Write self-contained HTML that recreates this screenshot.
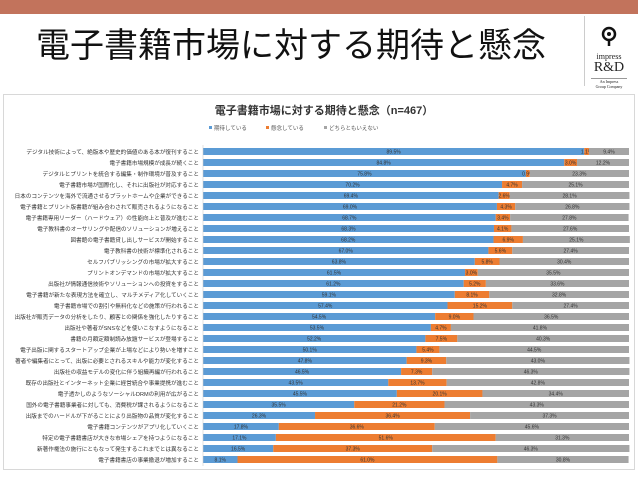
<!DOCTYPE html>
<html><head><meta charset="utf-8">
<style>
body{margin:0;width:638px;height:479px;background:#fff;overflow:hidden;font-family:"Liberation Sans","Noto Sans CJK JP",sans-serif;position:relative}
#topbar{position:absolute;left:0;top:0;width:638px;height:14px;background:#c2735c}
#title{position:absolute;left:36px;top:18px;font-size:34px;color:#111;white-space:nowrap;letter-spacing:0px}
#divider{position:absolute;left:584px;top:16px;width:1px;height:70px;background:#ccc}
#logo{position:absolute;left:585px;top:26px;width:48px;text-align:center;font-family:"Liberation Serif",serif;color:#222}
#panel{position:absolute;left:3px;top:94px;width:630px;height:374px;border:1px solid #d8d8d8;background:#fff}
</style></head><body>
<div id="topbar"></div>
<div id="title">電子書籍市場に対する期待と懸念</div>
<div id="divider"></div>
<div id="logo">
<svg width="20" height="22" viewBox="0 0 20 22"><circle cx="10" cy="8" r="6" fill="none" stroke="#111" stroke-width="2.5"/><circle cx="10" cy="8" r="2" fill="#111"/><path d="M10 14 L10 20" stroke="#111" stroke-width="2.5"/></svg>
<div style="font-size:8px;line-height:8px">impress</div>
<div style="font-size:14px;line-height:14px">R&amp;D</div>
<div style="border-top:1px solid #999;margin:3px 6px 0;font-size:4px;line-height:5px">An Impress<br>Group Company</div>
</div>
<div id="panel">
<svg id="chart" width="630" height="374"></svg>
</div>
<script>
const categories=["デジタル技術によって、絶版本や歴史的価値のある本が復刊すること","電子書籍市場規模が成長が続くこと","デジタルとプリントを統合する編集・制作環境が普及すること","電子書籍市場が国際化し、それに出版社が対応すること","日本のコンテンツを海外で流通させるプラットホームや企業ができること","電子書籍とプリント版書籍が組み合わされて販売されるようになること","電子書籍専用リーダー（ハードウェア）の性能向上と普及が進むこと","電子教科書のオーサリングや配信のソリューションが増えること","図書館の電子書籍貸し出しサービスが開始すること","電子教科書の技術が標準化されること","セルフパブリッシングの市場が拡大すること","プリントオンデマンドの市場が拡大すること","出版社が情報通信技術やソリューションへの投資をすること","電子書籍が新たな表現方法を確立し、マルチメディア化していくこと","電子書籍市場での割引や無料化などの施策が行われること","出版社が販売データの分析をしたり、顧客との関係を強化したりすること","出版社や著者がSNSなどを使いこなすようになること","書籍の月額定額制読み放題サービスが登場すること","電子出版に関するスタートアップ企業が上場などにより勢いを増すこと","著者や編集者にとって、出版に必要とされるスキルや能力が変化すること","出版社の収益モデルの変化に伴う組織再編が行われること","既存の出版社とインターネット企業に経営統合や事業提携が進むこと","電子透かしのようなソーシャルDRMの利用が広がること","国外の電子書籍事業者に対しても、消費税が課されるようになること","出版までのハードルが下がることにより出版物の品質が変化すること","電子書籍コンテンツがアプリ化していくこと","特定の電子書籍書店が大きな市場シェアを持つようになること","新著作権法の施行にともなって発生するこれまでとは異なること","電子書籍書店の事業撤退が増加すること"];
const expect=[89.5,84.8,75.8,70.2,69.4,69.0,68.7,68.3,68.2,67.0,63.8,61.5,61.2,59.1,57.4,54.5,53.5,52.2,50.1,47.8,46.5,43.5,45.5,35.5,26.3,17.8,17.1,16.5,8.1];
const concern=[1.1,3.0,0.9,4.7,2.6,4.3,3.4,4.1,6.9,5.6,5.8,3.0,5.2,8.1,15.2,9.0,4.7,7.5,5.4,9.3,7.3,13.7,20.1,21.2,36.4,36.6,51.6,37.3,61.0];
const neutral=[9.4,12.2,23.3,25.1,28.1,26.8,27.8,27.6,25.1,27.4,30.4,35.5,33.6,32.8,27.4,36.5,41.8,40.3,44.5,43.0,46.3,42.8,34.4,43.3,37.3,45.6,31.3,46.3,30.8];
const legendLabels=["期待している","懸念している","どちらともいえない"];
const colors=["#5b9bd5","#ed7d31","#a5a5a5"];
const NS="http://www.w3.org/2000/svg";
const svg=document.getElementById('chart');
const x0=199,xw=426,y0=53,step=11.0,bh=7;
function xs(v){return v/100*xw;}
function ys(i){return y0+i*step;}
function mk(t,a){const e=document.createElementNS(NS,t);for(const k in a)e.setAttribute(k,a[k]);svg.appendChild(e);return e;}
const ct=mk('text',{x:320,y:19,'font-size':11,'font-weight':'bold','text-anchor':'middle',fill:'#333'});
ct.textContent="電子書籍市場に対する期待と懸念（n=467）";


const lx=[205,262,320];
legendLabels.forEach((l,i)=>{
 const r=mk('rect',{x:lx[i],y:31,width:3,height:3,fill:colors[i]});
 
 
 const t=mk('text',{x:lx[i]+5,y:35,'font-size':5.5,fill:'#555'});t.textContent=l;
 
 
});
categories.forEach((c,i)=>{
 const y=ys(i);
 mk('rect',{x:0,y:y-2,width:630,height:bh+4,fill:'#fff'});
 const lab=mk('text',{x:x0-4,y:y+bh-1,'font-size':5.6,'text-anchor':'end',fill:'#333'});lab.textContent=c;
 
 
 const vals=[expect[i],concern[i],neutral[i]];
 let acc=0;
 vals.forEach((v,j)=>{
  const r=mk('rect',{x:x0+xs(acc),y:y,width:xs(v),height:bh,fill:colors[j]});
  
  
  const t=mk('text',{x:x0+xs(acc+v/2),y:y+bh-1.5,'font-size':5,'text-anchor':'middle',fill:'#333'});
  t.textContent=v.toFixed(1)+'%';
  
  
  acc+=v;
 });
});
mk('line',{x1:x0,x2:x0,y1:y0-3,y2:ys(categories.length-1)+bh+3,stroke:'#ccc','stroke-width':0.6});
</script>
</body></html>
